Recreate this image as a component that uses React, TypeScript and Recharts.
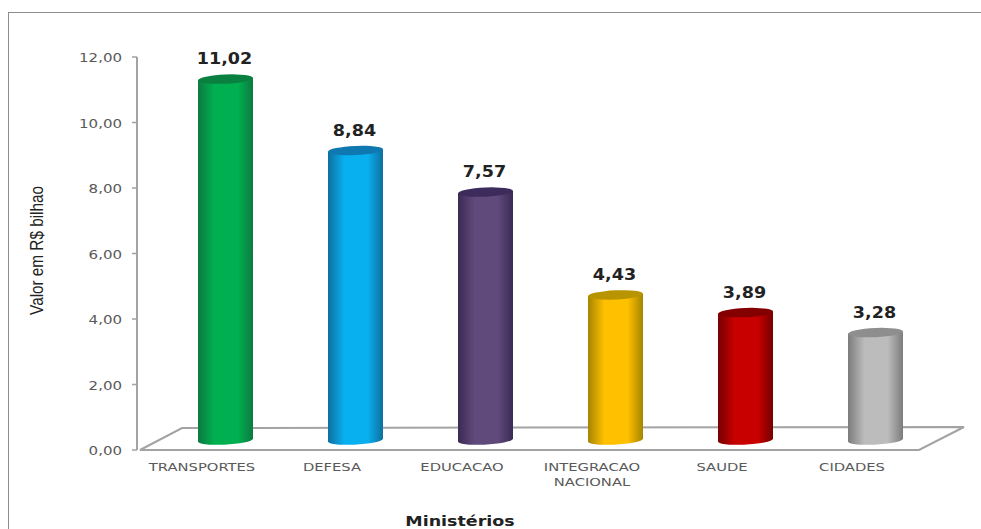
import React from 'react'
import { BarChart, Bar, XAxis, YAxis, LabelList, usePlotArea } from 'recharts'

const MINISTRIES = ['TRANSPORTES', 'DEFESA', 'EDUCACAO', 'INTEGRACAO NACIONAL', 'SAUDE', 'CIDADES']
const VALUES = [11.02, 8.84, 7.57, 4.43, 3.89, 3.28]
const Y_TICKS = [0, 2, 4, 6, 8, 10, 12]

// edge, centre and cap colour of each cylinder
const EDGE_COLORS = ['#0c7a40', '#0f6f9f', '#3b2a55', '#a58500', '#760000', '#7c7c7c']
const MID_COLORS = ['#00b050', '#08b0f0', '#604a7b', '#ffc000', '#c80000', '#bcbcbc']
const CAP_COLORS = ['#0a8040', '#1078b0', '#3d2b5c', '#b89400', '#840000', '#8e8e8e']

const data = MINISTRIES.map((name, i) => ({ name, value: VALUES[i] }))

const fmt = (v: number) => v.toFixed(2).replace('.', ',')

// The cylinders stand in the middle of the floor, not on its front edge.
const DEPTH_X = 23
const DEPTH_Y = -10
const AXIS_GREY = '#a3a3a3'

// Everything is set a little wider than the fonts draw it.
function WideText({ x, y, stretch = 1.25, anchor = 'middle', children, ...rest }: any) {
  return (
    <text
      transform={`translate(${x},${y}) scale(${stretch},1)`}
      textAnchor={anchor}
      dominantBaseline="central"
      {...rest}
    >
      {children}
    </text>
  )
}

function Floor() {
  const plot = usePlotArea()
  if (!plot) return null
  const left = plot.x
  const right = plot.x + plot.width + 2
  const bottom = plot.y + plot.height
  return (
    <polygon
      points={`${left + 3},${bottom} ${right},${bottom} ${right + 45},${bottom - 23} ${left + 45},${bottom - 22}`}
      fill="#ffffff"
      stroke={AXIS_GREY}
      strokeWidth={2}
    />
  )
}

function Cylinder({ x, y, width, height, index }: any) {
  const left = x + DEPTH_X
  const right = left + width
  const top = y + DEPTH_Y
  const base = top + height
  const rx = width / 2
  const ry = 4.6
  const tilt = 1.2
  const id = `cyl-${index}`
  const body =
    `M${left},${top + tilt} L${left},${base + tilt} ` +
    `A${rx},${ry} -3 0 0 ${right},${base - tilt} ` +
    `L${right},${top - tilt} Z`
  return (
    <g>
      <defs>
        <linearGradient id={id} x1="0" x2="1" y1="0" y2="0">
          <stop offset="0" stopColor={EDGE_COLORS[index]} />
          <stop offset="0.3" stopColor={MID_COLORS[index]} />
          <stop offset="0.72" stopColor={MID_COLORS[index]} />
          <stop offset="1" stopColor={EDGE_COLORS[index]} />
        </linearGradient>
      </defs>
      <path d={body} fill={`url(#${id})`} />
      <ellipse
        cx={left + rx}
        cy={top}
        rx={rx}
        ry={ry}
        fill={CAP_COLORS[index]}
        transform={`rotate(-2.5 ${left + rx} ${top})`}
      />
    </g>
  )
}

function ValueLabel({ x, y, width, value }: any) {
  return (
    <WideText
      x={x + width / 2 + DEPTH_X - 1}
      y={y + DEPTH_Y - 20}
      stretch={1.17}
      fontFamily="DejaVu Sans"
      fontWeight={700}
      fontSize={15}
      fill="#222222"
    >
      {fmt(value)}
    </WideText>
  )
}

function CategoryTick({ x, y, payload }: any) {
  const lines = String(payload.value).split(' ')
  return (
    <g>
      {lines.map((line, i) => (
        <WideText
          key={line}
          x={x}
          y={y + i * 15}
          stretch={1.34}
          fontFamily="DejaVu Sans"
          fontSize={11}
          fill="#595959"
        >
          {line}
        </WideText>
      ))}
    </g>
  )
}

function ValueTick({ x, y, payload }: any) {
  return (
    <WideText x={x} y={y + 1} anchor="end" fontFamily="DejaVu Sans" fontSize={12} fill="#595959">
      {fmt(payload.value)}
    </WideText>
  )
}

function ValueAxisTitle({ viewBox }: any) {
  return (
    <text
      transform={`translate(37,${viewBox.y + viewBox.height / 2 - 3}) rotate(-90) scale(0.85,1)`}
      textAnchor="middle"
      dominantBaseline="central"
      fontFamily="Liberation Sans"
      fontSize={18}
      fill="#222222"
    >
      Valor em R$ bilhao
    </text>
  )
}

function CategoryAxisTitle() {
  return (
    <WideText x={460} y={521} stretch={1.25} fontFamily="DejaVu Sans" fontWeight={700} fontSize={14} fill="#222222">
      Ministérios
    </WideText>
  )
}

export default function App() {
  return (
    <div
      style={{
        position: 'absolute',
        left: 0,
        top: 0,
        width: 981,
        height: 529,
        background: '#fff',
        overflow: 'hidden',
      }}
    >
      <div
        style={{
          position: 'absolute',
          left: 8,
          top: 12,
          right: -4,
          bottom: -4,
          border: '1.5px solid #8c8c8c',
        }}
      />
      <BarChart
        width={981}
        height={529}
        data={data}
        margin={{ top: 57, right: 64, bottom: 29, left: 0 }}
        barSize={55}
        style={{ position: 'absolute', left: 0, top: 0 }}
      >
        <Floor />
        <XAxis
          dataKey="name"
          interval={0}
          axisLine={false}
          tickLine={false}
          height={50}
          tick={<CategoryTick />}
          tickMargin={11}
          label={<CategoryAxisTitle />}
        />
        <YAxis
          width={137}
          domain={[0, 12]}
          ticks={Y_TICKS}
          interval={0}
          axisLine={{ stroke: AXIS_GREY, strokeWidth: 2 }}
          tickLine={{ stroke: AXIS_GREY, strokeWidth: 1.5 }}
          tickSize={5}
          tickMargin={10}
          tick={<ValueTick />}
          label={<ValueAxisTitle />}
        />
        <Bar dataKey="value" isAnimationActive={false} shape={<Cylinder />}>
          <LabelList dataKey="value" content={<ValueLabel />} />
        </Bar>
      </BarChart>
    </div>
  )
}
